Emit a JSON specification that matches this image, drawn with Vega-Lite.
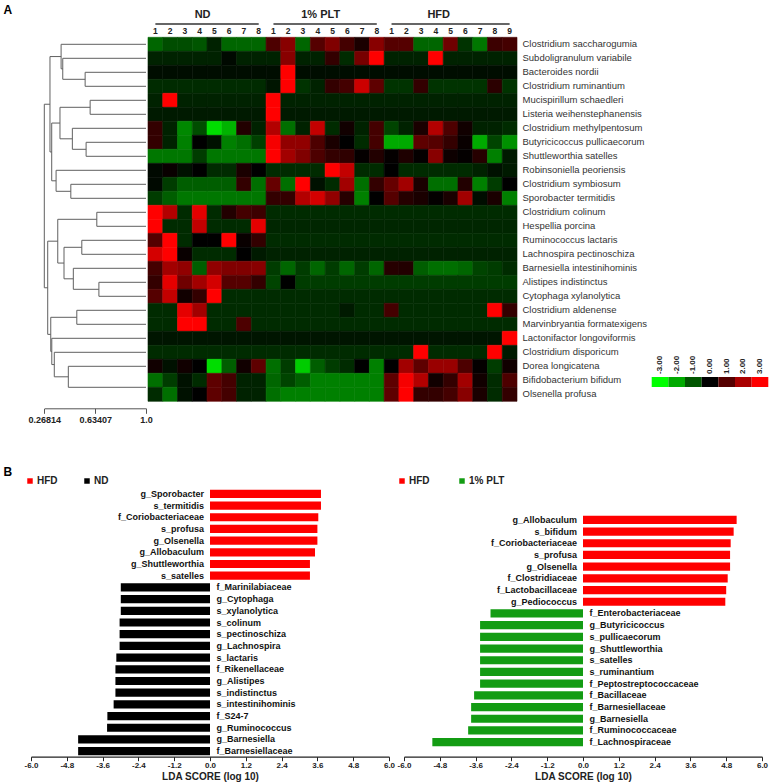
{
"$schema": "https://vega.github.io/schema/vega-lite/v6.json",
"width": 778, "height": 783,
"autosize": {"type": "none"},
"padding": 0,
"background": "white",
"config": {"view": {"stroke": null}, "font": "Liberation Sans", "axis": {"grid": false}},
"datasets": {
"species": [
{"r":1,"name":"Clostridium saccharogumia"},{"r":2,"name":"Subdoligranulum variabile"},{"r":3,"name":"Bacteroides nordii"},{"r":4,"name":"Clostridium ruminantium"},{"r":5,"name":"Mucispirillum schaedleri"},{"r":6,"name":"Listeria weihenstephanensis"},{"r":7,"name":"Clostridium methylpentosum"},{"r":8,"name":"Butyricicoccus pullicaecorum"},{"r":9,"name":"Shuttleworthia satelles"},{"r":10,"name":"Robinsoniella peoriensis"},{"r":11,"name":"Clostridium symbiosum"},{"r":12,"name":"Sporobacter termitidis"},{"r":13,"name":"Clostridium colinum"},{"r":14,"name":"Hespellia porcina"},{"r":15,"name":"Ruminococcus lactaris"},{"r":16,"name":"Lachnospira pectinoschiza"},{"r":17,"name":"Barnesiella intestinihominis"},{"r":18,"name":"Alistipes indistinctus"},{"r":19,"name":"Cytophaga xylanolytica"},{"r":20,"name":"Clostridium aldenense"},{"r":21,"name":"Marvinbryantia formatexigens"},{"r":22,"name":"Lactonifactor longoviformis"},{"r":23,"name":"Clostridium disporicum"},{"r":24,"name":"Dorea longicatena"},{"r":25,"name":"Bifidobacterium bifidum"},{"r":26,"name":"Olsenella profusa"}
],
"groups": [
{"group":"ND","first":"N1","last":"N8"},{"group":"1% PLT","first":"P1","last":"P8"},{"group":"HFD","first":"H1","last":"H9"}
],
"colorkey": [
{"v":-3,"lab":"-3.00"},{"v":-2,"lab":"-2.00"},{"v":-1,"lab":"-1.00"},{"v":0,"lab":"0.00"},{"v":1,"lab":"1.00"},{"v":2,"lab":"2.00"},{"v":3,"lab":"3.00"}
],
"dendro": [
{"x":0.562,"x2":0.562,"y":3,"y2":4},{"x":0.562,"x2":1,"y":3,"y2":3},{"x":0.562,"x2":1,"y":4,"y2":4},
{"x":0.401,"x2":0.401,"y":2,"y2":3.5},{"x":0.401,"x2":1,"y":2,"y2":2},{"x":0.401,"x2":0.562,"y":3.5,"y2":3.5},
{"x":0.389,"x2":0.389,"y":1,"y2":2.75},{"x":0.389,"x2":1,"y":1,"y2":1},{"x":0.389,"x2":0.401,"y":2.75,"y2":2.75},
{"x":0.598,"x2":0.598,"y":5,"y2":6},{"x":0.598,"x2":1,"y":5,"y2":5},{"x":0.598,"x2":1,"y":6,"y2":6},
{"x":0.569,"x2":0.569,"y":8,"y2":9},{"x":0.569,"x2":1,"y":8,"y2":8},{"x":0.569,"x2":1,"y":9,"y2":9},
{"x":0.47,"x2":0.47,"y":7,"y2":8.5},{"x":0.47,"x2":1,"y":7,"y2":7},{"x":0.47,"x2":0.569,"y":8.5,"y2":8.5},
{"x":0.381,"x2":0.381,"y":5.5,"y2":7.75},{"x":0.381,"x2":0.598,"y":5.5,"y2":5.5},{"x":0.381,"x2":0.47,"y":7.75,"y2":7.75},
{"x":0.459,"x2":0.459,"y":11,"y2":12},{"x":0.459,"x2":1,"y":11,"y2":11},{"x":0.459,"x2":1,"y":12,"y2":12},
{"x":0.353,"x2":0.353,"y":10,"y2":11.5},{"x":0.353,"x2":1,"y":10,"y2":10},{"x":0.353,"x2":0.459,"y":11.5,"y2":11.5},
{"x":0.3215,"x2":0.3215,"y":6.625,"y2":10.75},{"x":0.3215,"x2":0.381,"y":6.625,"y2":6.625},{"x":0.3215,"x2":0.353,"y":10.75,"y2":10.75},
{"x":0.309,"x2":0.309,"y":1.875,"y2":8.6875},{"x":0.309,"x2":0.389,"y":1.875,"y2":1.875},{"x":0.309,"x2":0.3215,"y":8.6875,"y2":8.6875},
{"x":0.646,"x2":0.646,"y":13,"y2":14},{"x":0.646,"x2":1,"y":13,"y2":13},{"x":0.646,"x2":1,"y":14,"y2":14},
{"x":0.538,"x2":0.538,"y":15,"y2":16},{"x":0.538,"x2":1,"y":15,"y2":15},{"x":0.538,"x2":1,"y":16,"y2":16},
{"x":0.661,"x2":0.661,"y":18,"y2":19},{"x":0.661,"x2":1,"y":18,"y2":18},{"x":0.661,"x2":1,"y":19,"y2":19},
{"x":0.477,"x2":0.477,"y":17,"y2":18.5},{"x":0.477,"x2":1,"y":17,"y2":17},{"x":0.477,"x2":0.661,"y":18.5,"y2":18.5},
{"x":0.41,"x2":0.41,"y":15.5,"y2":17.75},{"x":0.41,"x2":0.538,"y":15.5,"y2":15.5},{"x":0.41,"x2":0.477,"y":17.75,"y2":17.75},
{"x":0.365,"x2":0.365,"y":13.5,"y2":16.625},{"x":0.365,"x2":0.646,"y":13.5,"y2":13.5},{"x":0.365,"x2":0.41,"y":16.625,"y2":16.625},
{"x":0.502,"x2":0.502,"y":20,"y2":21},{"x":0.502,"x2":1,"y":20,"y2":20},{"x":0.502,"x2":1,"y":21,"y2":21},
{"x":0.441,"x2":0.441,"y":24,"y2":25.5},{"x":0.441,"x2":1,"y":24,"y2":24},{"x":0.441,"x2":1,"y":25.5,"y2":25.5},
{"x":0.34,"x2":0.34,"y":23,"y2":24.75},{"x":0.34,"x2":1,"y":23,"y2":23},{"x":0.34,"x2":0.441,"y":24.75,"y2":24.75},
{"x":0.322,"x2":0.322,"y":22,"y2":23.875},{"x":0.322,"x2":1,"y":22,"y2":22},{"x":0.322,"x2":0.34,"y":23.875,"y2":23.875},
{"x":0.3146,"x2":0.3146,"y":20.5,"y2":22.9375},{"x":0.3146,"x2":0.502,"y":20.5,"y2":20.5},{"x":0.3146,"x2":0.322,"y":22.9375,"y2":22.9375},
{"x":0.2927,"x2":0.2927,"y":15.0625,"y2":21.71875},{"x":0.2927,"x2":0.365,"y":15.0625,"y2":15.0625},{"x":0.2927,"x2":0.3146,"y":21.71875,"y2":21.71875},
{"x":0.26814,"x2":0.26814,"y":5.28125,"y2":18.390625},{"x":0.26814,"x2":0.309,"y":5.28125,"y2":5.28125},{"x":0.26814,"x2":0.2927,"y":18.390625,"y2":18.390625}
],
"lda1": [
{"name":"g_Sporobacter","lda":3.72,"grp":"HFD"},{"name":"s_termitidis","lda":3.72,"grp":"HFD"},{"name":"f_Coriobacteriaceae","lda":3.63,"grp":"HFD"},{"name":"s_profusa","lda":3.6,"grp":"HFD"},{"name":"g_Olsenella","lda":3.6,"grp":"HFD"},{"name":"g_Allobaculum","lda":3.52,"grp":"HFD"},{"name":"g_Shuttleworthia","lda":3.35,"grp":"HFD"},{"name":"s_satelles","lda":3.35,"grp":"HFD"},
{"name":"f_Marinilabiaceae","lda":-2.99,"grp":"ND"},{"name":"g_Cytophaga","lda":-2.99,"grp":"ND"},{"name":"s_xylanolytica","lda":-2.99,"grp":"ND"},{"name":"s_colinum","lda":-3.03,"grp":"ND"},{"name":"s_pectinoschiza","lda":-3.03,"grp":"ND"},{"name":"g_Lachnospira","lda":-3.03,"grp":"ND"},{"name":"s_lactaris","lda":-3.14,"grp":"ND"},{"name":"f_Rikenellaceae","lda":-3.17,"grp":"ND"},{"name":"g_Alistipes","lda":-3.17,"grp":"ND"},{"name":"s_indistinctus","lda":-3.17,"grp":"ND"},{"name":"s_intestinihominis","lda":-3.23,"grp":"ND"},{"name":"f_S24-7","lda":-3.44,"grp":"ND"},{"name":"g_Ruminococcus","lda":-3.45,"grp":"ND"},{"name":"g_Barnesiella","lda":-4.42,"grp":"ND"},{"name":"f_Barnesiellaceae","lda":-4.42,"grp":"ND"}
],
"lda2": [
{"name":"g_Allobaculum","lda":5.15,"grp":"HFD"},{"name":"s_bifidum","lda":5.05,"grp":"HFD"},{"name":"f_Coriobacteriaceae","lda":4.95,"grp":"HFD"},{"name":"s_profusa","lda":4.93,"grp":"HFD"},{"name":"g_Olsenella","lda":4.93,"grp":"HFD"},{"name":"f_Clostridiaceae","lda":4.85,"grp":"HFD"},{"name":"f_Lactobacillaceae","lda":4.8,"grp":"HFD"},{"name":"g_Pediococcus","lda":4.77,"grp":"HFD"},
{"name":"f_Enterobacteriaceae","lda":-3.1,"grp":"1% PLT"},{"name":"g_Butyricicoccus","lda":-3.45,"grp":"1% PLT"},{"name":"s_pullicaecorum","lda":-3.45,"grp":"1% PLT"},{"name":"g_Shuttleworthia","lda":-3.45,"grp":"1% PLT"},{"name":"s_satelles","lda":-3.45,"grp":"1% PLT"},{"name":"s_ruminantium","lda":-3.45,"grp":"1% PLT"},{"name":"f_Peptostreptococcaceae","lda":-3.45,"grp":"1% PLT"},{"name":"f_Bacillaceae","lda":-3.65,"grp":"1% PLT"},{"name":"f_Barnesiellaceae","lda":-3.75,"grp":"1% PLT"},{"name":"g_Barnesiella","lda":-3.75,"grp":"1% PLT"},{"name":"f_Ruminococcaceae","lda":-3.85,"grp":"1% PLT"},{"name":"f_Lachnospiraceae","lda":-5.05,"grp":"1% PLT"}
],
"cells": [
{"r":1,"c":"N1","v":-1.2},{"r":1,"c":"N2","v":-0.9},{"r":1,"c":"N3","v":-0.9},{"r":1,"c":"N4","v":-1},{"r":1,"c":"N5","v":-0.4},{"r":1,"c":"N6","v":-1.2},{"r":1,"c":"N7","v":-1.2},{"r":1,"c":"N8","v":-1.2},{"r":1,"c":"P1","v":0.9},{"r":1,"c":"P2","v":1.6},{"r":1,"c":"P3","v":-1.2},{"r":1,"c":"P4","v":1},{"r":1,"c":"P5","v":1.5},{"r":1,"c":"P6","v":0.8},{"r":1,"c":"P7","v":0.3},{"r":1,"c":"P8","v":1.6},{"r":1,"c":"H1","v":1},{"r":1,"c":"H2","v":1},{"r":1,"c":"H3","v":-1.2},{"r":1,"c":"H4","v":-1.2},{"r":1,"c":"H5","v":1.3},{"r":1,"c":"H6","v":-0.6},{"r":1,"c":"H7","v":-1.4},{"r":1,"c":"H8","v":0.7},{"r":1,"c":"H9","v":0.8},
{"r":2,"c":"N1","v":-0.4},{"r":2,"c":"N2","v":-0.4},{"r":2,"c":"N3","v":-0.4},{"r":2,"c":"N4","v":-0.4},{"r":2,"c":"N5","v":-0.4},{"r":2,"c":"N6","v":-0.1},{"r":2,"c":"N7","v":-0.4},{"r":2,"c":"N8","v":-0.4},{"r":2,"c":"P1","v":-0.4},{"r":2,"c":"P2","v":1.6},{"r":2,"c":"P3","v":-0.4},{"r":2,"c":"P4","v":-0.4},{"r":2,"c":"P5","v":0.6},{"r":2,"c":"P6","v":-0.5},{"r":2,"c":"P7","v":1.4},{"r":2,"c":"P8","v":3},{"r":2,"c":"H1","v":-0.4},{"r":2,"c":"H2","v":-0.4},{"r":2,"c":"H3","v":-0.4},{"r":2,"c":"H4","v":3},{"r":2,"c":"H5","v":-0.4},{"r":2,"c":"H6","v":-0.4},{"r":2,"c":"H7","v":-0.4},{"r":2,"c":"H8","v":-0.4},{"r":2,"c":"H9","v":-0.4},
{"r":3,"c":"N1","v":-0.15},{"r":3,"c":"N2","v":-0.15},{"r":3,"c":"N3","v":-0.15},{"r":3,"c":"N4","v":-0.15},{"r":3,"c":"N5","v":-0.15},{"r":3,"c":"N6","v":-0.15},{"r":3,"c":"N7","v":-0.15},{"r":3,"c":"N8","v":-0.15},{"r":3,"c":"P1","v":-0.15},{"r":3,"c":"P2","v":3},{"r":3,"c":"P3","v":-0.15},{"r":3,"c":"P4","v":-0.15},{"r":3,"c":"P5","v":-0.15},{"r":3,"c":"P6","v":-0.15},{"r":3,"c":"P7","v":-0.15},{"r":3,"c":"P8","v":-0.15},{"r":3,"c":"H1","v":-0.15},{"r":3,"c":"H2","v":-0.15},{"r":3,"c":"H3","v":-0.15},{"r":3,"c":"H4","v":-0.15},{"r":3,"c":"H5","v":-0.15},{"r":3,"c":"H6","v":-0.15},{"r":3,"c":"H7","v":-0.15},{"r":3,"c":"H8","v":-0.15},{"r":3,"c":"H9","v":-0.15},
{"r":4,"c":"N1","v":-0.5},{"r":4,"c":"N2","v":-0.5},{"r":4,"c":"N3","v":-0.5},{"r":4,"c":"N4","v":-0.5},{"r":4,"c":"N5","v":-0.5},{"r":4,"c":"N6","v":-0.5},{"r":4,"c":"N7","v":-0.5},{"r":4,"c":"N8","v":-0.5},{"r":4,"c":"P1","v":-0.25},{"r":4,"c":"P2","v":3},{"r":4,"c":"P3","v":-0.6},{"r":4,"c":"P4","v":-0.4},{"r":4,"c":"P5","v":0.6},{"r":4,"c":"P6","v":0.8},{"r":4,"c":"P7","v":2.4},{"r":4,"c":"P8","v":1.1},{"r":4,"c":"H1","v":-0.6},{"r":4,"c":"H2","v":-0.6},{"r":4,"c":"H3","v":0.6},{"r":4,"c":"H4","v":-0.6},{"r":4,"c":"H5","v":-0.6},{"r":4,"c":"H6","v":-0.6},{"r":4,"c":"H7","v":-0.6},{"r":4,"c":"H8","v":0.5},{"r":4,"c":"H9","v":-0.6},
{"r":5,"c":"N1","v":-0.4},{"r":5,"c":"N2","v":3},{"r":5,"c":"N3","v":-0.4},{"r":5,"c":"N4","v":-0.4},{"r":5,"c":"N5","v":-0.4},{"r":5,"c":"N6","v":-0.4},{"r":5,"c":"N7","v":-0.4},{"r":5,"c":"N8","v":-0.4},{"r":5,"c":"P1","v":3},{"r":5,"c":"P2","v":-0.4},{"r":5,"c":"P3","v":-0.4},{"r":5,"c":"P4","v":-0.4},{"r":5,"c":"P5","v":-0.4},{"r":5,"c":"P6","v":-0.4},{"r":5,"c":"P7","v":-0.4},{"r":5,"c":"P8","v":-0.4},{"r":5,"c":"H1","v":-0.4},{"r":5,"c":"H2","v":-0.4},{"r":5,"c":"H3","v":-0.4},{"r":5,"c":"H4","v":-0.4},{"r":5,"c":"H5","v":-0.4},{"r":5,"c":"H6","v":-0.4},{"r":5,"c":"H7","v":-0.4},{"r":5,"c":"H8","v":-0.4},{"r":5,"c":"H9","v":-0.4},
{"r":6,"c":"N1","v":-0.3},{"r":6,"c":"N2","v":-0.3},{"r":6,"c":"N3","v":-0.3},{"r":6,"c":"N4","v":-0.3},{"r":6,"c":"N5","v":-0.3},{"r":6,"c":"N6","v":-0.3},{"r":6,"c":"N7","v":-0.3},{"r":6,"c":"N8","v":-0.3},{"r":6,"c":"P1","v":3},{"r":6,"c":"P2","v":-0.3},{"r":6,"c":"P3","v":-0.3},{"r":6,"c":"P4","v":-0.3},{"r":6,"c":"P5","v":-0.3},{"r":6,"c":"P6","v":-0.3},{"r":6,"c":"P7","v":-0.3},{"r":6,"c":"P8","v":-0.3},{"r":6,"c":"H1","v":-0.3},{"r":6,"c":"H2","v":-0.3},{"r":6,"c":"H3","v":-0.3},{"r":6,"c":"H4","v":-0.3},{"r":6,"c":"H5","v":-0.3},{"r":6,"c":"H6","v":-0.3},{"r":6,"c":"H7","v":-0.3},{"r":6,"c":"H8","v":-0.3},{"r":6,"c":"H9","v":-0.3},
{"r":7,"c":"N1","v":0.6},{"r":7,"c":"N2","v":-0.4},{"r":7,"c":"N3","v":-1.6},{"r":7,"c":"N4","v":-0.9},{"r":7,"c":"N5","v":-2.6},{"r":7,"c":"N6","v":-2.1},{"r":7,"c":"N7","v":0.4},{"r":7,"c":"N8","v":-0.4},{"r":7,"c":"P1","v":2.1},{"r":7,"c":"P2","v":-1.3},{"r":7,"c":"P3","v":-0.4},{"r":7,"c":"P4","v":2.3},{"r":7,"c":"P5","v":-0.5},{"r":7,"c":"P6","v":0.2},{"r":7,"c":"P7","v":-0.4},{"r":7,"c":"P8","v":0.8},{"r":7,"c":"H1","v":-0.8},{"r":7,"c":"H2","v":-0.4},{"r":7,"c":"H3","v":0.3},{"r":7,"c":"H4","v":2.1},{"r":7,"c":"H5","v":0.9},{"r":7,"c":"H6","v":0.2},{"r":7,"c":"H7","v":-0.4},{"r":7,"c":"H8","v":-0.4},{"r":7,"c":"H9","v":-0.5},
{"r":8,"c":"N1","v":0.6},{"r":8,"c":"N2","v":-0.4},{"r":8,"c":"N3","v":-1.5},{"r":8,"c":"N4","v":0},{"r":8,"c":"N5","v":-0.2},{"r":8,"c":"N6","v":-1.5},{"r":8,"c":"N7","v":-1.3},{"r":8,"c":"N8","v":-0.75},{"r":8,"c":"P1","v":2.9},{"r":8,"c":"P2","v":1.7},{"r":8,"c":"P3","v":1.7},{"r":8,"c":"P4","v":0.9},{"r":8,"c":"P5","v":0.3},{"r":8,"c":"P6","v":0},{"r":8,"c":"P7","v":-0.5},{"r":8,"c":"P8","v":0.8},{"r":8,"c":"H1","v":-2},{"r":8,"c":"H2","v":-2},{"r":8,"c":"H3","v":1.1},{"r":8,"c":"H4","v":1},{"r":8,"c":"H5","v":0.6},{"r":8,"c":"H6","v":0.1},{"r":8,"c":"H7","v":-2},{"r":8,"c":"H8","v":-0.8},{"r":8,"c":"H9","v":-1.7},
{"r":9,"c":"N1","v":-1.4},{"r":9,"c":"N2","v":-1.4},{"r":9,"c":"N3","v":-1.4},{"r":9,"c":"N4","v":-0.7},{"r":9,"c":"N5","v":-1.4},{"r":9,"c":"N6","v":-1.4},{"r":9,"c":"N7","v":-1.4},{"r":9,"c":"N8","v":-1.4},{"r":9,"c":"P1","v":3},{"r":9,"c":"P2","v":1.9},{"r":9,"c":"P3","v":1.5},{"r":9,"c":"P4","v":0.9},{"r":9,"c":"P5","v":0.6},{"r":9,"c":"P6","v":0.55},{"r":9,"c":"P7","v":0.05},{"r":9,"c":"P8","v":0.4},{"r":9,"c":"H1","v":0.05},{"r":9,"c":"H2","v":0.35},{"r":9,"c":"H3","v":0.05},{"r":9,"c":"H4","v":1.6},{"r":9,"c":"H5","v":0.15},{"r":9,"c":"H6","v":0.05},{"r":9,"c":"H7","v":0.45},{"r":9,"c":"H8","v":-1.5},{"r":9,"c":"H9","v":-0.3},
{"r":10,"c":"N1","v":-0.1},{"r":10,"c":"N2","v":0.1},{"r":10,"c":"N3","v":-0.2},{"r":10,"c":"N4","v":0},{"r":10,"c":"N5","v":-0.5},{"r":10,"c":"N6","v":-0.5},{"r":10,"c":"N7","v":0.3},{"r":10,"c":"N8","v":0},{"r":10,"c":"P1","v":-0.5},{"r":10,"c":"P2","v":-0.5},{"r":10,"c":"P3","v":-0.5},{"r":10,"c":"P4","v":-0.5},{"r":10,"c":"P5","v":3},{"r":10,"c":"P6","v":2.3},{"r":10,"c":"P7","v":-0.5},{"r":10,"c":"P8","v":-0.5},{"r":10,"c":"H1","v":0},{"r":10,"c":"H2","v":-0.5},{"r":10,"c":"H3","v":-0.5},{"r":10,"c":"H4","v":-0.5},{"r":10,"c":"H5","v":-0.5},{"r":10,"c":"H6","v":-0.5},{"r":10,"c":"H7","v":-0.4},{"r":10,"c":"H8","v":-0.2},{"r":10,"c":"H9","v":-0.3},
{"r":11,"c":"N1","v":-0.1},{"r":11,"c":"N2","v":-0.7},{"r":11,"c":"N3","v":-1.1},{"r":11,"c":"N4","v":-1.1},{"r":11,"c":"N5","v":-1.1},{"r":11,"c":"N6","v":-1.1},{"r":11,"c":"N7","v":0.6},{"r":11,"c":"N8","v":-1.3},{"r":11,"c":"P1","v":1.2},{"r":11,"c":"P2","v":-1.3},{"r":11,"c":"P3","v":3},{"r":11,"c":"P4","v":-0.2},{"r":11,"c":"P5","v":-0.5},{"r":11,"c":"P6","v":1.9},{"r":11,"c":"P7","v":-1.3},{"r":11,"c":"P8","v":0.6},{"r":11,"c":"H1","v":1.2},{"r":11,"c":"H2","v":1.9},{"r":11,"c":"H3","v":0.3},{"r":11,"c":"H4","v":-1.3},{"r":11,"c":"H5","v":-1.3},{"r":11,"c":"H6","v":0.4},{"r":11,"c":"H7","v":-1.5},{"r":11,"c":"H8","v":-0.7},{"r":11,"c":"H9","v":0},
{"r":12,"c":"N1","v":-0.7},{"r":12,"c":"N2","v":-1.1},{"r":12,"c":"N3","v":-1.4},{"r":12,"c":"N4","v":-1.4},{"r":12,"c":"N5","v":-1.4},{"r":12,"c":"N6","v":-1.4},{"r":12,"c":"N7","v":-1.4},{"r":12,"c":"N8","v":-1.4},{"r":12,"c":"P1","v":0.6},{"r":12,"c":"P2","v":0.6},{"r":12,"c":"P3","v":2.1},{"r":12,"c":"P4","v":2.5},{"r":12,"c":"P5","v":1.7},{"r":12,"c":"P6","v":0.45},{"r":12,"c":"P7","v":-1.5},{"r":12,"c":"P8","v":0},{"r":12,"c":"H1","v":1},{"r":12,"c":"H2","v":0.45},{"r":12,"c":"H3","v":0.3},{"r":12,"c":"H4","v":0.05},{"r":12,"c":"H5","v":0.3},{"r":12,"c":"H6","v":1.9},{"r":12,"c":"H7","v":-0.15},{"r":12,"c":"H8","v":0.3},{"r":12,"c":"H9","v":-1.5},
{"r":13,"c":"N1","v":3},{"r":13,"c":"N2","v":2.1},{"r":13,"c":"N3","v":-0.5},{"r":13,"c":"N4","v":2.7},{"r":13,"c":"N5","v":-0.5},{"r":13,"c":"N6","v":0.4},{"r":13,"c":"N7","v":0.8},{"r":13,"c":"N8","v":0.7},{"r":13,"c":"P1","v":-0.5},{"r":13,"c":"P2","v":-0.5},{"r":13,"c":"P3","v":-0.5},{"r":13,"c":"P4","v":-0.5},{"r":13,"c":"P5","v":-0.5},{"r":13,"c":"P6","v":-0.5},{"r":13,"c":"P7","v":-0.5},{"r":13,"c":"P8","v":-0.5},{"r":13,"c":"H1","v":-0.5},{"r":13,"c":"H2","v":-0.5},{"r":13,"c":"H3","v":-0.5},{"r":13,"c":"H4","v":-0.5},{"r":13,"c":"H5","v":-0.5},{"r":13,"c":"H6","v":-0.5},{"r":13,"c":"H7","v":-0.5},{"r":13,"c":"H8","v":-0.5},{"r":13,"c":"H9","v":-0.5},
{"r":14,"c":"N1","v":3},{"r":14,"c":"N2","v":-0.5},{"r":14,"c":"N3","v":-0.5},{"r":14,"c":"N4","v":2.3},{"r":14,"c":"N5","v":-0.5},{"r":14,"c":"N6","v":-0.5},{"r":14,"c":"N7","v":-0.5},{"r":14,"c":"N8","v":2.7},{"r":14,"c":"P1","v":-0.45},{"r":14,"c":"P2","v":-0.45},{"r":14,"c":"P3","v":-0.45},{"r":14,"c":"P4","v":-0.45},{"r":14,"c":"P5","v":-0.45},{"r":14,"c":"P6","v":-0.45},{"r":14,"c":"P7","v":-0.45},{"r":14,"c":"P8","v":-0.45},{"r":14,"c":"H1","v":-0.45},{"r":14,"c":"H2","v":-0.45},{"r":14,"c":"H3","v":-0.45},{"r":14,"c":"H4","v":-0.45},{"r":14,"c":"H5","v":-0.45},{"r":14,"c":"H6","v":-0.45},{"r":14,"c":"H7","v":-0.45},{"r":14,"c":"H8","v":-0.45},{"r":14,"c":"H9","v":-0.45},
{"r":15,"c":"N1","v":1},{"r":15,"c":"N2","v":3},{"r":15,"c":"N3","v":-0.5},{"r":15,"c":"N4","v":0},{"r":15,"c":"N5","v":0},{"r":15,"c":"N6","v":3},{"r":15,"c":"N7","v":0.1},{"r":15,"c":"N8","v":0.6},{"r":15,"c":"P1","v":-0.5},{"r":15,"c":"P2","v":-0.5},{"r":15,"c":"P3","v":-0.5},{"r":15,"c":"P4","v":-0.5},{"r":15,"c":"P5","v":-0.5},{"r":15,"c":"P6","v":-0.5},{"r":15,"c":"P7","v":-0.5},{"r":15,"c":"P8","v":-0.5},{"r":15,"c":"H1","v":-0.5},{"r":15,"c":"H2","v":-0.5},{"r":15,"c":"H3","v":-0.5},{"r":15,"c":"H4","v":-0.5},{"r":15,"c":"H5","v":-0.5},{"r":15,"c":"H6","v":-0.5},{"r":15,"c":"H7","v":-0.5},{"r":15,"c":"H8","v":-0.5},{"r":15,"c":"H9","v":-0.5},
{"r":16,"c":"N1","v":2.5},{"r":16,"c":"N2","v":3},{"r":16,"c":"N3","v":0.1},{"r":16,"c":"N4","v":-0.5},{"r":16,"c":"N5","v":-0.5},{"r":16,"c":"N6","v":-0.5},{"r":16,"c":"N7","v":0},{"r":16,"c":"N8","v":-0.3},{"r":16,"c":"P1","v":-0.4},{"r":16,"c":"P2","v":-0.4},{"r":16,"c":"P3","v":-0.4},{"r":16,"c":"P4","v":-0.4},{"r":16,"c":"P5","v":-0.4},{"r":16,"c":"P6","v":-0.4},{"r":16,"c":"P7","v":-0.4},{"r":16,"c":"P8","v":-0.4},{"r":16,"c":"H1","v":-0.4},{"r":16,"c":"H2","v":-0.4},{"r":16,"c":"H3","v":-0.4},{"r":16,"c":"H4","v":-0.4},{"r":16,"c":"H5","v":-0.4},{"r":16,"c":"H6","v":-0.4},{"r":16,"c":"H7","v":-0.4},{"r":16,"c":"H8","v":-0.4},{"r":16,"c":"H9","v":-0.4},
{"r":17,"c":"N1","v":0.8},{"r":17,"c":"N2","v":1.9},{"r":17,"c":"N3","v":1.7},{"r":17,"c":"N4","v":-1.1},{"r":17,"c":"N5","v":1.7},{"r":17,"c":"N6","v":1.5},{"r":17,"c":"N7","v":1.5},{"r":17,"c":"N8","v":1.6},{"r":17,"c":"P1","v":-0.7},{"r":17,"c":"P2","v":-1.2},{"r":17,"c":"P3","v":-0.7},{"r":17,"c":"P4","v":-1.2},{"r":17,"c":"P5","v":-0.7},{"r":17,"c":"P6","v":-1.2},{"r":17,"c":"P7","v":-0.7},{"r":17,"c":"P8","v":-1.2},{"r":17,"c":"H1","v":0.45},{"r":17,"c":"H2","v":0.4},{"r":17,"c":"H3","v":-1.1},{"r":17,"c":"H4","v":-1.3},{"r":17,"c":"H5","v":-1.3},{"r":17,"c":"H6","v":-1.2},{"r":17,"c":"H7","v":-0.8},{"r":17,"c":"H8","v":-0.7},{"r":17,"c":"H9","v":-0.5},
{"r":18,"c":"N1","v":0.6},{"r":18,"c":"N2","v":2.7},{"r":18,"c":"N3","v":1.3},{"r":18,"c":"N4","v":1.9},{"r":18,"c":"N5","v":2.5},{"r":18,"c":"N6","v":1},{"r":18,"c":"N7","v":1},{"r":18,"c":"N8","v":0.6},{"r":18,"c":"P1","v":-0.8},{"r":18,"c":"P2","v":0},{"r":18,"c":"P3","v":-0.7},{"r":18,"c":"P4","v":-0.7},{"r":18,"c":"P5","v":-0.7},{"r":18,"c":"P6","v":-0.7},{"r":18,"c":"P7","v":-0.7},{"r":18,"c":"P8","v":-0.7},{"r":18,"c":"H1","v":-0.7},{"r":18,"c":"H2","v":-0.7},{"r":18,"c":"H3","v":-0.7},{"r":18,"c":"H4","v":-0.7},{"r":18,"c":"H5","v":-0.7},{"r":18,"c":"H6","v":-0.7},{"r":18,"c":"H7","v":-0.7},{"r":18,"c":"H8","v":-0.7},{"r":18,"c":"H9","v":-0.7},
{"r":19,"c":"N1","v":1},{"r":19,"c":"N2","v":2.3},{"r":19,"c":"N3","v":0.2},{"r":19,"c":"N4","v":0.6},{"r":19,"c":"N5","v":3},{"r":19,"c":"N6","v":-0.5},{"r":19,"c":"N7","v":-0.5},{"r":19,"c":"N8","v":-0.5},{"r":19,"c":"P1","v":-0.5},{"r":19,"c":"P2","v":-0.5},{"r":19,"c":"P3","v":-0.5},{"r":19,"c":"P4","v":-0.5},{"r":19,"c":"P5","v":-0.5},{"r":19,"c":"P6","v":-0.5},{"r":19,"c":"P7","v":-0.5},{"r":19,"c":"P8","v":-0.5},{"r":19,"c":"H1","v":-0.5},{"r":19,"c":"H2","v":-0.5},{"r":19,"c":"H3","v":-0.5},{"r":19,"c":"H4","v":-0.5},{"r":19,"c":"H5","v":-0.5},{"r":19,"c":"H6","v":-0.5},{"r":19,"c":"H7","v":-0.5},{"r":19,"c":"H8","v":-0.5},{"r":19,"c":"H9","v":-0.5},
{"r":20,"c":"N1","v":-0.5},{"r":20,"c":"N2","v":-0.5},{"r":20,"c":"N3","v":2.7},{"r":20,"c":"N4","v":1.9},{"r":20,"c":"N5","v":-0.5},{"r":20,"c":"N6","v":-0.5},{"r":20,"c":"N7","v":-0.5},{"r":20,"c":"N8","v":-0.5},{"r":20,"c":"P1","v":-0.5},{"r":20,"c":"P2","v":-0.5},{"r":20,"c":"P3","v":-0.5},{"r":20,"c":"P4","v":-0.5},{"r":20,"c":"P5","v":-0.5},{"r":20,"c":"P6","v":-0.3},{"r":20,"c":"P7","v":-0.5},{"r":20,"c":"P8","v":-0.5},{"r":20,"c":"H1","v":0.8},{"r":20,"c":"H2","v":-0.5},{"r":20,"c":"H3","v":-0.5},{"r":20,"c":"H4","v":-0.5},{"r":20,"c":"H5","v":-0.5},{"r":20,"c":"H6","v":-0.5},{"r":20,"c":"H7","v":-0.5},{"r":20,"c":"H8","v":3},{"r":20,"c":"H9","v":0.6},
{"r":21,"c":"N1","v":-0.5},{"r":21,"c":"N2","v":-0.5},{"r":21,"c":"N3","v":3},{"r":21,"c":"N4","v":3},{"r":21,"c":"N5","v":-0.5},{"r":21,"c":"N6","v":-0.5},{"r":21,"c":"N7","v":0.9},{"r":21,"c":"N8","v":-0.5},{"r":21,"c":"P1","v":-0.5},{"r":21,"c":"P2","v":-0.5},{"r":21,"c":"P3","v":-0.5},{"r":21,"c":"P4","v":-0.5},{"r":21,"c":"P5","v":-0.5},{"r":21,"c":"P6","v":-0.5},{"r":21,"c":"P7","v":-0.5},{"r":21,"c":"P8","v":-0.5},{"r":21,"c":"H1","v":-0.5},{"r":21,"c":"H2","v":-0.5},{"r":21,"c":"H3","v":-0.5},{"r":21,"c":"H4","v":-0.5},{"r":21,"c":"H5","v":-0.5},{"r":21,"c":"H6","v":-0.5},{"r":21,"c":"H7","v":-0.5},{"r":21,"c":"H8","v":-0.5},{"r":21,"c":"H9","v":-0.5},
{"r":22,"c":"N1","v":-0.25},{"r":22,"c":"N2","v":-0.25},{"r":22,"c":"N3","v":-0.25},{"r":22,"c":"N4","v":-0.25},{"r":22,"c":"N5","v":-0.25},{"r":22,"c":"N6","v":-0.25},{"r":22,"c":"N7","v":-0.25},{"r":22,"c":"N8","v":-0.25},{"r":22,"c":"P1","v":-0.25},{"r":22,"c":"P2","v":-0.25},{"r":22,"c":"P3","v":-0.25},{"r":22,"c":"P4","v":-0.25},{"r":22,"c":"P5","v":-0.25},{"r":22,"c":"P6","v":-0.25},{"r":22,"c":"P7","v":-0.25},{"r":22,"c":"P8","v":-0.25},{"r":22,"c":"H1","v":-0.25},{"r":22,"c":"H2","v":-0.25},{"r":22,"c":"H3","v":-0.25},{"r":22,"c":"H4","v":-0.25},{"r":22,"c":"H5","v":-0.25},{"r":22,"c":"H6","v":-0.25},{"r":22,"c":"H7","v":-0.25},{"r":22,"c":"H8","v":-0.25},{"r":22,"c":"H9","v":3},
{"r":23,"c":"N1","v":-0.5},{"r":23,"c":"N2","v":-0.5},{"r":23,"c":"N3","v":-0.5},{"r":23,"c":"N4","v":-0.5},{"r":23,"c":"N5","v":-0.5},{"r":23,"c":"N6","v":-0.5},{"r":23,"c":"N7","v":-0.5},{"r":23,"c":"N8","v":-0.5},{"r":23,"c":"P1","v":-0.5},{"r":23,"c":"P2","v":-0.5},{"r":23,"c":"P3","v":-0.5},{"r":23,"c":"P4","v":-0.5},{"r":23,"c":"P5","v":-0.5},{"r":23,"c":"P6","v":-0.5},{"r":23,"c":"P7","v":-0.5},{"r":23,"c":"P8","v":-0.5},{"r":23,"c":"H1","v":-0.5},{"r":23,"c":"H2","v":-0.5},{"r":23,"c":"H3","v":3},{"r":23,"c":"H4","v":-0.5},{"r":23,"c":"H5","v":-0.5},{"r":23,"c":"H6","v":-0.5},{"r":23,"c":"H7","v":-0.5},{"r":23,"c":"H8","v":3},{"r":23,"c":"H9","v":-0.3},
{"r":24,"c":"N1","v":0.2},{"r":24,"c":"N2","v":-0.2},{"r":24,"c":"N3","v":0.2},{"r":24,"c":"N4","v":0},{"r":24,"c":"N5","v":-2.6},{"r":24,"c":"N6","v":-1.1},{"r":24,"c":"N7","v":0.2},{"r":24,"c":"N8","v":1.1},{"r":24,"c":"P1","v":-1.3},{"r":24,"c":"P2","v":-0.7},{"r":24,"c":"P3","v":-2.4},{"r":24,"c":"P4","v":-1.1},{"r":24,"c":"P5","v":-0.7},{"r":24,"c":"P6","v":-0.5},{"r":24,"c":"P7","v":0},{"r":24,"c":"P8","v":-1.5},{"r":24,"c":"H1","v":0},{"r":24,"c":"H2","v":1.9},{"r":24,"c":"H3","v":1.1},{"r":24,"c":"H4","v":1.8},{"r":24,"c":"H5","v":1.8},{"r":24,"c":"H6","v":0.9},{"r":24,"c":"H7","v":0.05},{"r":24,"c":"H8","v":-0.7},{"r":24,"c":"H9","v":0.2},
{"r":25,"c":"N1","v":-1.3},{"r":25,"c":"N2","v":-0.7},{"r":25,"c":"N3","v":-0.2},{"r":25,"c":"N4","v":-0.5},{"r":25,"c":"N5","v":1.1},{"r":25,"c":"N6","v":0.8},{"r":25,"c":"N7","v":-0.4},{"r":25,"c":"N8","v":-0.4},{"r":25,"c":"P1","v":-1.2},{"r":25,"c":"P2","v":-0.8},{"r":25,"c":"P3","v":-1.1},{"r":25,"c":"P4","v":-1.5},{"r":25,"c":"P5","v":-1.5},{"r":25,"c":"P6","v":-1.5},{"r":25,"c":"P7","v":-1.5},{"r":25,"c":"P8","v":-1.5},{"r":25,"c":"H1","v":1.1},{"r":25,"c":"H2","v":2.9},{"r":25,"c":"H3","v":2.1},{"r":25,"c":"H4","v":0.2},{"r":25,"c":"H5","v":0.6},{"r":25,"c":"H6","v":1.9},{"r":25,"c":"H7","v":0.2},{"r":25,"c":"H8","v":-0.5},{"r":25,"c":"H9","v":0.9},
{"r":26,"c":"N1","v":-0.5},{"r":26,"c":"N2","v":-1.3},{"r":26,"c":"N3","v":-0.2},{"r":26,"c":"N4","v":0},{"r":26,"c":"N5","v":1.1},{"r":26,"c":"N6","v":0.8},{"r":26,"c":"N7","v":-0.4},{"r":26,"c":"N8","v":-0.4},{"r":26,"c":"P1","v":-1.3},{"r":26,"c":"P2","v":-1.5},{"r":26,"c":"P3","v":-1.5},{"r":26,"c":"P4","v":-1.5},{"r":26,"c":"P5","v":-1.5},{"r":26,"c":"P6","v":-1.5},{"r":26,"c":"P7","v":-1.5},{"r":26,"c":"P8","v":-1.5},{"r":26,"c":"H1","v":1.1},{"r":26,"c":"H2","v":3},{"r":26,"c":"H3","v":0.6},{"r":26,"c":"H4","v":0.6},{"r":26,"c":"H5","v":0.8},{"r":26,"c":"H6","v":1.6},{"r":26,"c":"H7","v":0.3},{"r":26,"c":"H8","v":-0.5},{"r":26,"c":"H9","v":0.6}
]
},
"resolve": {"scale": {"x": "independent", "y": "independent", "color": "independent"}, "axis": {"x": "independent", "y": "independent"}, "legend": {"color": "independent"}},
"layer": [
{
"data": {"name": "dendro"},
"mark": {"type": "rule", "color": "#606060", "strokeWidth": 1},
"encoding": {
"x": {"field": "x", "type": "quantitative", "scale": {"domain": [0.26814, 1.0], "range": [44.3, 146], "nice": false, "zero": false},
"axis": {"orient": "bottom", "offset": -374.7, "values": [0.26814, 0.63407, 1.0], "labelExpr": "datum.value == 1 ? '1.0' : format(datum.value, '.5f')", "domainColor": "#555", "tickColor": "#555", "tickSize": 5, "labelFontSize": 9, "labelFontWeight": "bold", "labelColor": "#222", "labelPadding": 2, "labelFlush": false, "labelOverlap": false, "title": null, "grid": false}},
"x2": {"field": "x2"},
"y": {"field": "y", "type": "quantitative", "scale": {"domain": [0.5, 26.5], "range": [37.3, 401.3], "nice": false, "zero": false},
"axis": {"orient": "left", "offset": 0, "labels": false, "ticks": false, "domain": false, "grid": false, "title": "A", "titleAngle": 0, "titleX": 3, "titleY": 9, "titleAlign": "left", "titleBaseline": "middle", "titleFontSize": 12, "titleFontWeight": "bold", "titleColor": "#000"}},
"y2": {"field": "y2"}
}
},
{
"layer": [
{
"data": {"name": "cells"},
"transform": [{"lookup": "r", "from": {"data": {"name": "species"}, "key": "r", "fields": ["name"]}}],
"mark": {"type": "rect", "strokeWidth": 0.6},
"encoding": {
"x": {"field": "c", "type": "nominal", "scale": {"domain": ["N1","N2","N3","N4","N5","N6","N7","N8","P1","P2","P3","P4","P5","P6","P7","P8","H1","H2","H3","H4","H5","H6","H7","H8","H9"], "range": [148, 517], "paddingInner": 0, "paddingOuter": 0},
"axis": {"orient": "top", "offset": -37.3, "labelExpr": "slice(datum.value, 1)", "labelAngle": 0, "labelFontSize": 8.5, "labelFontWeight": "bold", "labelColor": "#222", "labelPadding": 2, "ticks": false, "domain": false, "title": null}},
"y": {"field": "name", "type": "nominal", "sort": {"field": "r", "op": "min"}, "scale": {"range": [37.3, 401.3], "paddingInner": 0, "paddingOuter": 0},
"axis": {"orient": "right", "offset": -261, "labelFontSize": 9.5, "labelColor": "#333", "labelPadding": 5, "ticks": false, "domain": false, "title": null, "labelLimit": 0}},
"color": {"field": "v", "type": "quantitative", "scale": {"domain": [-3, 0, 3], "range": ["#00ff00", "#000000", "#ff0000"], "interpolate": "rgb", "clamp": true}, "legend": null},
"stroke": {"field": "v", "type": "quantitative", "scale": {"domain": [-3, 0, 3], "range": ["#00ff00", "#000000", "#ff0000"], "interpolate": "rgb", "clamp": true}, "legend": null}
}
},
{
"data": {"name": "groups"},
"mark": {"type": "rule", "color": "#333", "strokeWidth": 1.3},
"encoding": {
"x": {"field": "first", "type": "nominal"},
"x2": {"field": "last"},
"y": {"datum": 0.5, "type": "quantitative", "scale": {"domain": [0, 1], "range": [33, 15], "nice": false, "zero": false}, "axis": null}
}
},
{
"data": {"name": "groups"},
"mark": {"type": "text", "fontSize": 11, "fontWeight": "bold", "color": "#222", "baseline": "middle", "align": "center", "dx": -3},
"encoding": {
"x": {"field": "first", "type": "nominal", "bandPosition": 3.9},
"y": {"datum": 1, "type": "quantitative", "scale": {"domain": [0, 1], "range": [33, 15], "nice": false, "zero": false}, "axis": null},
"text": {"field": "group"}
}
}
],
"resolve": {"scale": {"y": "independent"}, "axis": {"y": "independent"}}
},
{
"data": {"name": "colorkey"},
"layer": [
{
"mark": {"type": "rect"},
"encoding": {
"x": {"field": "v", "type": "ordinal", "scale": {"range": [651.7, 768.3], "paddingInner": 0, "paddingOuter": 0}, "axis": null},
"y": {"datum": 0, "type": "quantitative", "scale": {"domain": [0, 1], "range": [387, 377], "nice": false, "zero": false}, "axis": null},
"y2": {"datum": 1},
"color": {"field": "v", "type": "quantitative", "scale": {"domain": [-3, 0, 3], "range": ["#00ff00", "#000000", "#ff0000"], "interpolate": "rgb"}, "legend": null}
}
},
{
"mark": {"type": "text", "angle": 270, "align": "left", "baseline": "middle", "fontSize": 8, "fontWeight": "bold", "color": "#222"},
"encoding": {
"x": {"field": "v", "type": "ordinal"},
"y": {"datum": 1.3, "type": "quantitative"},
"text": {"field": "lab"}
}
}
]
},
{
"data": {"name": "lda1"},
"layer": [
{
"mark": {"type": "bar"},
"encoding": {
"y": {"field": "name", "type": "nominal", "sort": null, "scale": {"range": [488, 757], "paddingInner": 0.3, "paddingOuter": 0.15},
"axis": {"orient": "left", "offset": 0, "labels": false, "ticks": false, "domain": false, "grid": false, "title": "B", "titleAngle": 0, "titleX": 3, "titleY": 471, "titleAlign": "left", "titleBaseline": "middle", "titleFontSize": 12, "titleFontWeight": "bold", "titleColor": "#000"}},
"x": {"field": "lda", "type": "quantitative", "scale": {"domain": [-6, 6], "range": [31, 389], "nice": false, "zero": false},
"axis": {"orient": "bottom", "offset": -26.3, "values": [-6, -4.8, -3.6, -2.4, -1.2, 0, 1.2, 2.4, 3.6, 4.8, 6], "labelExpr": "replace(format(datum.value, '.1f'), '\u2212', '-')", "labelFontSize": 8, "labelFontWeight": "bold", "labelColor": "#222", "domainColor": "#222", "domainWidth": 1.2, "tickColor": "#222", "tickSize": 4, "labelPadding": 1, "labelFlush": false, "labelOverlap": false, "grid": false, "title": "LDA SCORE (log 10)", "titleFontSize": 10, "titleFontWeight": "bold", "titlePadding": 2, "titleColor": "#222"}},
"color": {"field": "grp", "type": "nominal", "scale": {"domain": ["HFD", "ND"], "range": ["#ff0000", "#000000"]},
"legend": {"orient": "none", "legendX": 25, "legendY": 476, "direction": "horizontal", "title": null, "symbolType": "square", "symbolSize": 30, "symbolStrokeWidth": 0, "labelFontSize": 10, "labelFontWeight": "bold", "labelColor": "#222", "labelOffset": 2, "columnPadding": 24, "padding": 0}}
}
},
{
"mark": {"type": "text", "fontSize": 9, "fontWeight": "bold", "color": "#111", "baseline": "middle", "align": {"expr": "datum.lda > 0 ? 'right' : 'left'"}, "dx": {"expr": "datum.lda > 0 ? -6 : 6.5"}},
"encoding": {
"y": {"field": "name", "type": "nominal", "sort": null},
"x": {"datum": 0, "type": "quantitative"},
"text": {"field": "name"}
}
}
]
},
{
"data": {"name": "lda2"},
"layer": [
{
"mark": {"type": "bar"},
"encoding": {
"y": {"field": "name", "type": "nominal", "sort": null, "scale": {"range": [514, 748], "paddingInner": 0.3, "paddingOuter": 0.15}, "axis": null},
"x": {"field": "lda", "type": "quantitative", "scale": {"domain": [-6, 6], "range": [404, 762], "nice": false, "zero": false},
"axis": {"orient": "bottom", "offset": -26.3, "values": [-6, -4.8, -3.6, -2.4, -1.2, 0, 1.2, 2.4, 3.6, 4.8, 6], "labelExpr": "replace(format(datum.value, '.1f'), '\u2212', '-')", "labelFontSize": 8, "labelFontWeight": "bold", "labelColor": "#222", "domainColor": "#222", "domainWidth": 1.2, "tickColor": "#222", "tickSize": 4, "labelPadding": 1, "labelFlush": false, "labelOverlap": false, "grid": false, "title": "LDA SCORE (log 10)", "titleFontSize": 10, "titleFontWeight": "bold", "titlePadding": 2, "titleColor": "#222"}},
"color": {"field": "grp", "type": "nominal", "scale": {"domain": ["HFD", "1% PLT"], "range": ["#ff0000", "#139c13"]},
"legend": {"orient": "none", "legendX": 397, "legendY": 476, "direction": "horizontal", "title": null, "symbolType": "square", "symbolSize": 30, "symbolStrokeWidth": 0, "labelFontSize": 10, "labelFontWeight": "bold", "labelColor": "#222", "labelOffset": 2, "columnPadding": 27, "padding": 0}}
}
},
{
"mark": {"type": "text", "fontSize": 9, "fontWeight": "bold", "color": "#111", "baseline": "middle", "align": {"expr": "datum.lda > 0 ? 'right' : 'left'"}, "dx": {"expr": "datum.lda > 0 ? -6 : 6.5"}},
"encoding": {
"y": {"field": "name", "type": "nominal", "sort": null},
"x": {"datum": 0, "type": "quantitative"},
"text": {"field": "name"}
}
}
]
}
]
}
